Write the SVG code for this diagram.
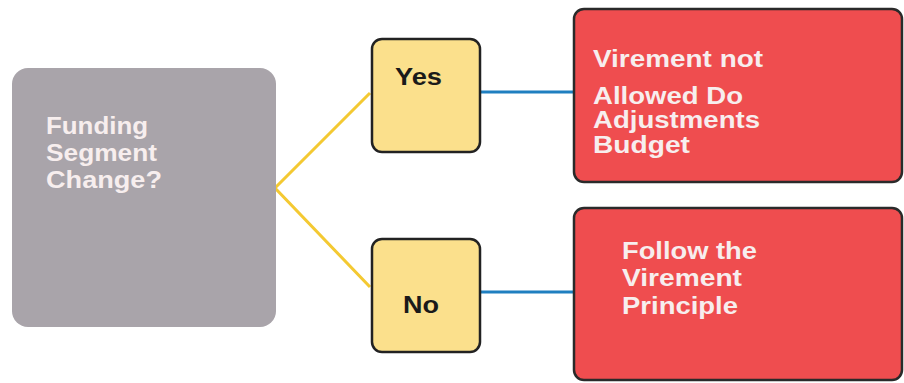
<svg xmlns="http://www.w3.org/2000/svg" width="904" height="383" viewBox="0 0 904 383">
<defs>
<style>
.lbl{font-family:"Liberation Sans",Arial,sans-serif;font-weight:bold;font-size:23px}
.w{fill:#f7eeee}
.k{fill:#1a1a1a}
.yes{fill:#fbe08c;stroke:#222;stroke-width:2.5}
.red{fill:#ef4d4f;stroke:#2a2a2a;stroke-width:2.5}
.yl{stroke:#f4c932;stroke-width:3;fill:none}
.bl{stroke:#1f7fc0;stroke-width:3;fill:none}
</style>
</defs>
<rect width="904" height="383" fill="#ffffff"/>
<g id="connectors">
<polyline class="yl" points="370,93 275,188 370,287"/>
<line class="bl" x1="480" y1="92" x2="574" y2="92"/>
<line class="bl" x1="480" y1="292" x2="574" y2="292"/>
</g>
<g id="funding">
<rect x="12" y="68" width="264" height="259" rx="16" fill="#a9a4aa"/>
<text class="lbl w" lengthAdjust="spacingAndGlyphs"><tspan x="46" y="134" textLength="102" lengthAdjust="spacingAndGlyphs">Funding</tspan><tspan x="46" y="161" textLength="111" lengthAdjust="spacingAndGlyphs">Segment</tspan><tspan x="46" y="188" textLength="116" lengthAdjust="spacingAndGlyphs">Change?</tspan></text>
</g>
<g id="yes">
<rect class="yes" x="372" y="39" width="108" height="113" rx="10"/>
<text class="lbl k" x="395" y="85" textLength="47" lengthAdjust="spacingAndGlyphs">Yes</text>
</g>
<g id="no">
<rect class="yes" x="372" y="239" width="108" height="113" rx="10"/>
<text class="lbl k" x="403" y="313" textLength="36" lengthAdjust="spacingAndGlyphs">No</text>
</g>
<g id="notallowed">
<rect class="red" x="574" y="9" width="328" height="173" rx="10"/>
<text class="lbl w"><tspan x="593" y="67" textLength="170" lengthAdjust="spacingAndGlyphs">Virement not</tspan><tspan x="593" y="104" textLength="150" lengthAdjust="spacingAndGlyphs">Allowed Do</tspan><tspan x="593" y="128" textLength="167" lengthAdjust="spacingAndGlyphs">Adjustments</tspan><tspan x="593" y="153" textLength="97" lengthAdjust="spacingAndGlyphs">Budget</tspan></text>
</g>
<g id="follow">
<rect class="red" x="574" y="208" width="328" height="172" rx="10"/>
<text class="lbl w"><tspan x="622" y="259" textLength="135" lengthAdjust="spacingAndGlyphs">Follow the</tspan><tspan x="622" y="286" textLength="120" lengthAdjust="spacingAndGlyphs">Virement</tspan><tspan x="622" y="314" textLength="116" lengthAdjust="spacingAndGlyphs">Principle</tspan></text>
</g>
</svg>
